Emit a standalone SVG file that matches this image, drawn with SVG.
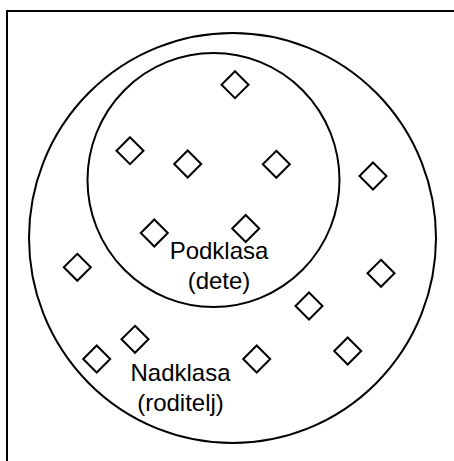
<svg xmlns="http://www.w3.org/2000/svg" xmlns:xlink="http://www.w3.org/1999/xlink" width="454" height="461" viewBox="0 0 454 461">
<style>
.ln{fill:none;stroke:#000;stroke-width:2}
.dm{fill:#fff;stroke:#000;stroke-width:2}
.tx{font-family:"Liberation Sans",Arial,sans-serif;font-size:24px;fill:#000;text-anchor:middle}
</style>
<defs>
<path id="d" class="dm" d="M0,-13.5 L13.5,0 L0,13.5 L-13.5,0 Z"/>
</defs>
<rect x="0" y="0" width="454" height="461" fill="#fff"/>
<rect class="ln" x="7" y="11" width="460" height="470"/>
<g id="nadklasa">
<ellipse class="ln" cx="232.5" cy="238" rx="203.5" ry="205"/>
<text class="tx" x="180.5" y="381">Nadklasa</text>
<text class="tx" x="180.5" y="411">(roditelj)</text>
</g>
<g id="podklasa">
<ellipse class="ln" cx="213.5" cy="180" rx="126" ry="127"/>
<text class="tx" x="219" y="259">Podklasa</text>
<text class="tx" x="219" y="289">(dete)</text>
</g>
<g id="objekti">
<use xlink:href="#d" x="235" y="84.7"/>
<use xlink:href="#d" x="130" y="150.7"/>
<use xlink:href="#d" x="187.7" y="164"/>
<use xlink:href="#d" x="276.3" y="164.3"/>
<use xlink:href="#d" x="373" y="176"/>
<use xlink:href="#d" x="154.3" y="233"/>
<use xlink:href="#d" x="245.7" y="228.5"/>
<use xlink:href="#d" x="77.3" y="267.3"/>
<use xlink:href="#d" x="381" y="273.3"/>
<use xlink:href="#d" x="309" y="306"/>
<use xlink:href="#d" x="135" y="339.3"/>
<use xlink:href="#d" x="96.7" y="359"/>
<use xlink:href="#d" x="256.7" y="359"/>
<use xlink:href="#d" x="347.7" y="351"/>
</g>
</svg>
